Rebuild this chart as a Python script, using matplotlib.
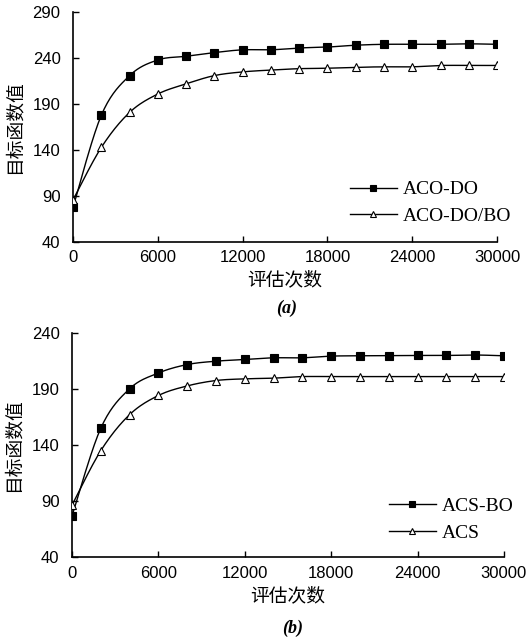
import numpy as np
import matplotlib
matplotlib.use("Agg")
import matplotlib.pyplot as plt

plt.rcParams['font.family'] = ['Liberation Sans', 'Noto Sans CJK SC', 'DejaVu Sans']

# evaluation counts (shared x)
evals = [0, 2000, 4000, 6000, 8000, 10000, 12000, 14000, 16000,
         18000, 20000, 22000, 24000, 26000, 28000, 30000]

# chart (a)
aco_do = [78, 178, 221, 238, 242, 246, 249, 249, 251, 252, 254, 255, 255, 255, 255.5, 255]
aco_do_bo = [86, 143, 181, 201, 212, 221, 225, 227, 228.5, 229, 230, 230.5, 230.5, 232, 232, 232]

# chart (b)
acs_bo = [77, 155, 190, 204, 211.5, 214.5, 216, 217.5, 217.5, 219, 219.3, 219.3, 219.6, 219.6, 220, 219.3]
acs = [86.5, 135, 167, 184, 192.5, 197.3, 198.8, 199.4, 200.8, 200.8, 200.8, 200.8, 200.8, 200.8, 200.8, 200.8]


# smooth line through points (like excel's smoothed line), markers stay on the data
def smooth(x, y, n=20):
    x = np.asarray(x, float)
    y = np.asarray(y, float)
    xs, ys = [], []
    for i in range(len(x) - 1):
        p0 = np.array([x[max(i - 1, 0)], y[max(i - 1, 0)]])
        p1 = np.array([x[i], y[i]])
        p2 = np.array([x[i + 1], y[i + 1]])
        p3 = np.array([x[min(i + 2, len(x) - 1)], y[min(i + 2, len(x) - 1)]])
        t = np.linspace(0, 1, n)[:, None]
        pts = 0.5 * ((2 * p1) + (-p0 + p2) * t + (2 * p0 - 5 * p1 + 4 * p2 - p3) * t ** 2
                     + (-p0 + 3 * p1 - 3 * p2 + p3) * t ** 3)
        xs.extend(pts[:, 0])
        ys.extend(pts[:, 1])
    return xs, ys


def draw(ax, s1, s2, lab1, lab2, ylim, yticks, legend_pos):
    for s, mk, fc, lab in [(s1, 's', 'black', lab1), (s2, '^', 'white', lab2)]:
        xs, ys = smooth(evals, s)
        ax.plot(xs, ys, color='black', lw=1.0, zorder=2)
        ax.plot(evals, s, ls='none', marker=mk, ms=5.5,
                mfc=fc, mec='black', mew=0.8, zorder=3)
        ax.plot([], [], color='black', lw=1.0, marker=mk, ms=5, mfc=fc,
                mec='black', mew=0.8, label=lab)
    ax.set_xlim(0, 30000)
    ax.set_ylim(*ylim)
    ax.set_xticks([0, 6000, 12000, 18000, 24000, 30000])
    ax.set_yticks(yticks)
    for sp in ['top', 'right']:
        ax.spines[sp].set_visible(False)
    for sp in ['left', 'bottom']:
        ax.spines[sp].set_linewidth(1.2)
    ax.tick_params(direction='in', length=4, width=1.0, labelsize=12)
    ax.tick_params(axis='y', pad=9)
    ax.tick_params(axis='x', pad=6)
    ax.set_xlabel('评估次数', fontsize=13.5, family=['Noto Sans CJK SC'], labelpad=3)
    ax.set_ylabel('目标函数值', fontsize=13.5, family=['Noto Sans CJK SC'], labelpad=6)
    ax.legend(loc='lower left', bbox_to_anchor=legend_pos, frameon=False,
              prop={'family': 'Liberation Serif', 'size': 14}, handlelength=2.4,
              handletextpad=0.3, labelspacing=0.45, borderpad=0, borderaxespad=0)


fig = plt.figure(figsize=(5.26, 6.37), dpi=100)
ax1 = fig.add_axes([0.139, 0.620, 0.806, 0.361])
ax2 = fig.add_axes([0.137, 0.125, 0.821, 0.353])

draw(ax1, aco_do, aco_do_bo, 'ACO-DO', 'ACO-DO/BO', (40, 290), [40, 90, 140, 190, 240, 290], (0.653, 0.075))
draw(ax2, acs_bo, acs, 'ACS-BO', 'ACS', (40, 240), [40, 90, 140, 190, 240], (0.734, 0.07))

fig.text(0.545, 1 - 308 / 637, '(a)', ha='center', va='center', fontsize=13,
         family='Liberation Serif', style='italic', weight='bold')
fig.text(0.557, 1 - 628 / 637, '(b)', ha='center', va='center', fontsize=13,
         family='Liberation Serif', style='italic', weight='bold')

fig.savefig('out.png', dpi=100)
